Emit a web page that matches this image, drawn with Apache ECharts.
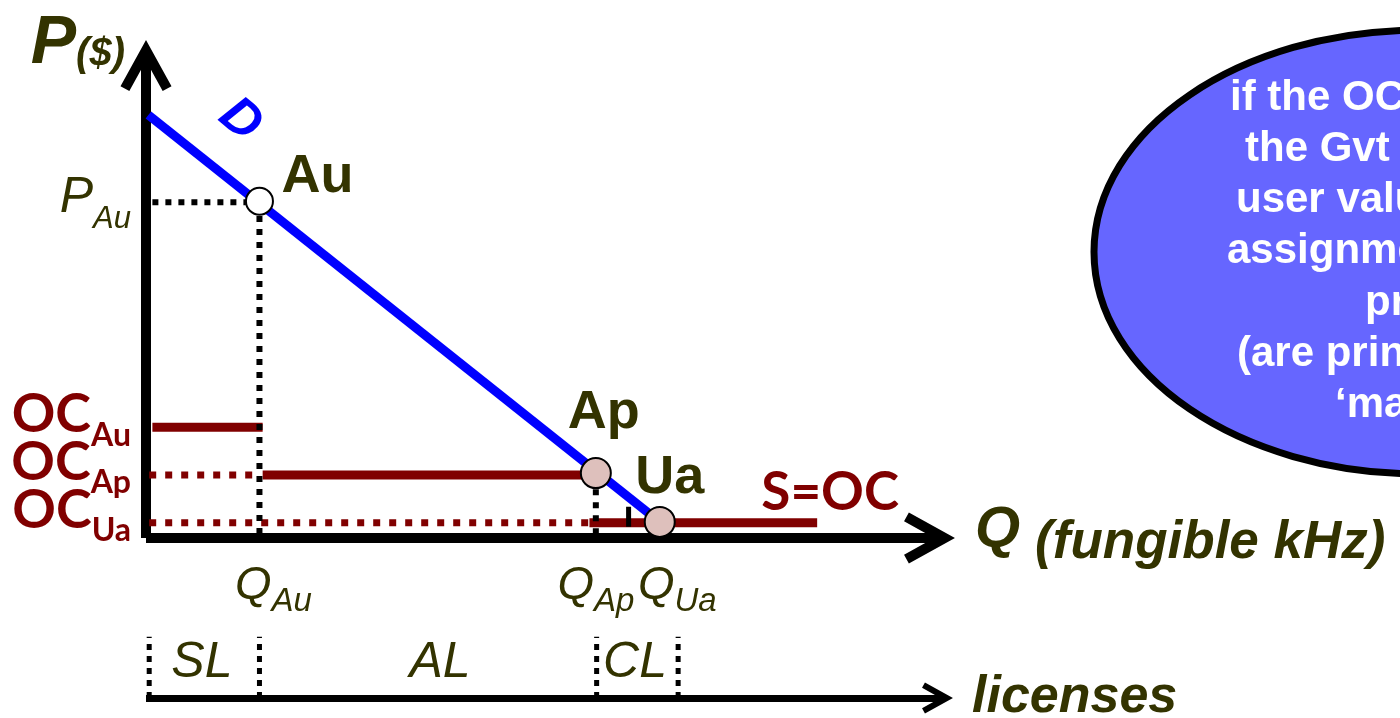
<!DOCTYPE html>
<html><head><meta charset="utf-8">
<script src="https://cdn.jsdelivr.net/npm/echarts@6/dist/echarts.min.js"></script>
<style>html,body{margin:0;padding:0;background:#fff;overflow:hidden}#c{width:1400px;height:718px}</style>
</head><body><div id="c"></div>
<script>
// ---------- data (chart units: Q on 0..100, P on 0..100) ----------
const demandQ = [0.3, 64.3];
const demandP = [86.7, 3.3];
const pointNames = ['Au', 'Ap', 'Ua'];
const pointQ = [14.2, 56.3, 64.3];
const pointP = [69.0, 13.3, 3.3];
const priceAu = 68.8;
const ocNames = ['Au', 'Ap', 'Ua'];
const ocLevels = [22.7, 12.9, 3.1];
const ocSolidStart = [0.8, 14.6, 55.5];
const ocSolidEnd = [14.6, 56.3, 84.0];
const ocDottedStart = [null, 0.4, 0.4];
const ocDottedEnd = [null, 13.6, 55.5];
const qTickNames = ['Au', 'Ap', 'Ua'];
const qTicks = [14.2, 56.3, 64.3];
const auLevelQ = [0.8, 12.5];
const auDropP = [66.0, 0];
const apDropP = [10.0, 0.5];
const uaMarkQ = 60.4;
const uaMarkP = [6.4, 2.3];
const licenseBounds = [0.4, 14.2, 56.4, 66.6];
const licenseTop = 0.9;
const licenseNames = ['SL', 'AL', 'CL'];
const licenseMid = [7.0, 36.8, 61.2];
const noteLines = ['if the OCs are known,', 'the Gvt can infer', 'user values from', 'assignments and', 'prices', '(are principles of', '\u2018markets\u2019)'];

// ---------- styles ----------
const OLIVE = '#333300', RED = '#800000', BLUE = '#0000ff';
const ARIAL = '"Liberation Sans", Arial, sans-serif';
const CALIBRI = 'Lato, "Liberation Sans", sans-serif';
const chevron = 'path://M26 0 L51.4 45.9 L42.6 50.7 L26 20.7 L9.4 50.7 L0.6 45.9 Z';

const series = [];
// OC solid steps
ocLevels.forEach((lv, i) => {
  series.push({type: 'line', xAxisIndex: 0, yAxisIndex: 0, silent: true, symbol: 'none',
    data: [[ocSolidStart[i], lv], [ocSolidEnd[i], lv]],
    lineStyle: {color: RED, width: 9, cap: 'butt'}, z: 2});
  if (ocDottedEnd[i] != null) {
    series.push({type: 'line', xAxisIndex: 0, yAxisIndex: 0, silent: true, symbol: 'none',
      data: [[ocDottedStart[i], lv], [ocDottedEnd[i], lv]],
      lineStyle: {color: RED, width: 7, type: [7, 9], cap: 'butt'}, z: 2});
  }
});
// demand
series.push({type: 'line', silent: true, symbol: 'none',
  data: demandQ.map((q, i) => [q, demandP[i]]),
  lineStyle: {color: BLUE, width: 9, cap: 'butt'}, z: 3});
// black dotted guides
const dotted = {color: '#000', width: 6, type: [6, 7], cap: 'butt'};
series.push({type: 'line', silent: true, symbol: 'none', data: [[auLevelQ[0], priceAu], [auLevelQ[1], priceAu]], lineStyle: dotted, z: 4});
series.push({type: 'line', silent: true, symbol: 'none', data: [[qTicks[0], auDropP[0]], [qTicks[0], auDropP[1]]], lineStyle: dotted, z: 4});
series.push({type: 'line', silent: true, symbol: 'none', data: [[qTicks[1], apDropP[0]], [qTicks[1], apDropP[1]]], lineStyle: dotted, z: 4});
series.push({type: 'line', silent: true, symbol: 'none', data: [[uaMarkQ, uaMarkP[0]], [uaMarkQ, uaMarkP[1]]], lineStyle: {color: '#000', width: 5}, z: 4});
// points
const ptOffsets = [[58, -24], [8, -60], [10, -44]];
series.push({type: 'scatter', silent: true, z: 6,
  data: pointQ.map((q, i) => ({
    value: [q, pointP[i]], name: pointNames[i],
    symbolSize: i === 0 ? 27 : 30,
    itemStyle: {color: i === 0 ? '#ffffff' : '#dec0bc', borderColor: '#000', borderWidth: 2, opacity: 1},
    label: {show: true, formatter: '{b}', position: 'inside', offset: ptOffsets[i],
      color: OLIVE, fontFamily: ARIAL, fontWeight: 'bold', fontSize: 54}
  }))});
// annotations: D on demand, S=OC on supply
series.push({type: 'scatter', silent: true, z: 5, symbolSize: 1, itemStyle: {color: 'transparent', opacity: 1},
  data: [
    {value: [demandQ[0], demandP[0]], label: {show: true, formatter: 'D', position: 'inside', offset: [74, -55], rotate: -40,
      color: BLUE, fontFamily: ARIAL, fontWeight: 'bold', fontStyle: 'italic', fontSize: 52}},
    {value: [ocSolidEnd[2], ocLevels[2]], label: {show: true, formatter: 'S=OC', position: 'inside', offset: [13, -30],
      color: RED, fontFamily: CALIBRI, fontWeight: 'bold', fontSize: 53}}
  ]});
// price-axis tick labels (P_Au and the three OC levels), anchored on the P axis
const yRich = {
  pm: {fontFamily: ARIAL, fontStyle: 'italic', fontSize: 50, color: OLIVE, padding: [0, 0, 8, 0]},
  ps: {fontFamily: ARIAL, fontStyle: 'italic', fontSize: 31, color: OLIVE, padding: [34, 0, 0, 0]},
  om: {fontFamily: CALIBRI, fontWeight: 'bold', fontSize: 54, color: RED, padding: [0, 0, 25, 0]},
  os: {fontFamily: CALIBRI, fontWeight: 'bold', fontSize: 32, color: RED, padding: [16, 0, 0, 0]}
};
series.push({type: 'scatter', silent: true, z: 5, symbolSize: 1, itemStyle: {color: 'transparent', opacity: 1},
  data: [{value: [0, priceAu], name: '{pm|P}{ps|Au}'}].concat(ocLevels.map((lv, i) => ({value: [0, lv], name: '{om|OC}{os|' + ocNames[i] + '}'}))),
  label: {show: true, formatter: '{b}', position: 'inside', align: 'right', verticalAlign: 'middle', offset: [-15, 0], rich: yRich}});
// license panel
licenseBounds.forEach(b => {
  series.push({type: 'line', xAxisIndex: 1, yAxisIndex: 1, silent: true, symbol: 'none',
    data: [[b, 0], [b, licenseTop]], lineStyle: {color: '#000', width: 5, type: [6, 6], cap: 'butt'}});
});
series.push({type: 'scatter', xAxisIndex: 1, yAxisIndex: 1, silent: true, symbolSize: 1, itemStyle: {color: 'transparent', opacity: 1},
  data: licenseMid.map((q, i) => ({value: [q, 0.52], name: licenseNames[i]})),
  label: {show: true, formatter: '{b}', position: 'inside', color: OLIVE, fontFamily: ARIAL, fontStyle: 'italic', fontSize: 50}});

function near(a, b) { return Math.abs(a - b) < 1e-6; }

const option = {
  animation: false,
  backgroundColor: '#ffffff',
  grid: [
    {left: 146, right: 455, top: 50, bottom: 180, outerBoundsMode: 'none'},
    {left: 146, right: 455, top: 630, bottom: 20, outerBoundsMode: 'none'}
  ],
  xAxis: [{
    gridIndex: 0, type: 'value', min: 0, max: 100,
    axisLine: {show: true, onZero: false, lineStyle: {color: '#000', width: 10, cap: 'butt'},
      symbol: ['none', chevron], symbolSize: [51, 51], symbolOffset: [0, -15.5]},
    axisTick: {show: false}, splitLine: {show: false},
    axisLabel: {show: true, customValues: qTicks, margin: 50, verticalAlign: 'middle', hideOverlap: false,
      formatter: v => {
        const i = qTicks.findIndex(t => near(t, v));
        return '{q' + i + '|Q}{s|' + qTickNames[i] + '}';
      },
      rich: {
        q0: {fontFamily: ARIAL, fontStyle: 'italic', fontSize: 47, color: OLIVE, padding: [0, 0, 5, 28]},
        q1: {fontFamily: ARIAL, fontStyle: 'italic', fontSize: 47, color: OLIVE, padding: [0, 0, 5, 0]},
        q2: {fontFamily: ARIAL, fontStyle: 'italic', fontSize: 47, color: OLIVE, padding: [0, 0, 5, 35]},
        s: {fontFamily: ARIAL, fontStyle: 'italic', fontSize: 33, color: OLIVE, padding: [27, 0, 0, 0]}
      }},
    name: '{q|Q}{u|(fungible kHz)}', nameLocation: 'end', nameGap: 30,
    nameTextStyle: {align: 'left', verticalAlign: 'middle', rich: {
      q: {fontFamily: ARIAL, fontStyle: 'italic', fontWeight: 'bold', fontSize: 58, color: OLIVE, padding: [0, 0, 14, 0]},
      u: {fontFamily: ARIAL, fontStyle: 'italic', fontWeight: 'bold', fontSize: 53, color: OLIVE, padding: [10, 0, 0, 15]}
    }}
  }, {
    gridIndex: 1, type: 'value', min: 0, max: 100,
    axisLine: {show: true, onZero: false, lineStyle: {color: '#000', width: 7, cap: 'butt'},
      symbol: ['none', chevron], symbolSize: [31, 31], symbolOffset: [0, -7.5]},
    axisTick: {show: false}, splitLine: {show: false}, axisLabel: {show: false},
    name: 'licenses', nameLocation: 'end', nameGap: 27,
    nameTextStyle: {align: 'left', verticalAlign: 'middle', fontFamily: ARIAL, fontStyle: 'italic', fontWeight: 'bold',
      fontSize: 52, color: OLIVE, padding: [0, 0, 8, 0]}
  }],
  yAxis: [{
    gridIndex: 0, type: 'value', min: 0, max: 100,
    axisLine: {show: true, onZero: false, lineStyle: {color: '#000', width: 10, cap: 'butt'},
      symbol: ['none', chevron], symbolSize: [51, 51], symbolOffset: [0, -15.5]},
    axisTick: {show: false}, splitLine: {show: false}, axisLabel: {show: false},
    name: '{p|P}{d|($)}', nameLocation: 'end', nameGap: 2,
    nameTextStyle: {align: 'right', verticalAlign: 'middle', padding: [0, 21, 0, 0], rich: {
      p: {fontFamily: ARIAL, fontStyle: 'italic', fontWeight: 'bold', fontSize: 68, color: OLIVE, padding: [0, 0, 8, 0]},
      d: {fontFamily: ARIAL, fontStyle: 'italic', fontWeight: 'bold', fontSize: 40, color: OLIVE, padding: [14, 0, 0, 0]}
    }}
  }, {
    gridIndex: 1, type: 'value', min: 0, max: 1, show: false
  }],
  graphic: [
    {type: 'ellipse', z: 10, shape: {cx: 1420, cy: 252, rx: 326, ry: 222},
      style: {fill: '#6666ff', stroke: '#000', lineWidth: 7}},
  ].concat(noteLines.map((t, i) => ({
    type: 'text', z: 11,
    x: [1230, 1245, 1236, 1227, 1365, 1237, 1335][i],
    y: 98 + i * 51.3,
    style: {text: t, fill: '#ffffff', font: 'bold 42px ' + ARIAL, align: 'left', verticalAlign: 'middle'}
  }))),
  series: series
};

const chart = echarts.init(document.getElementById('c'), null, {renderer: 'canvas'});
chart.setOption(option);
</script>
</body></html>
